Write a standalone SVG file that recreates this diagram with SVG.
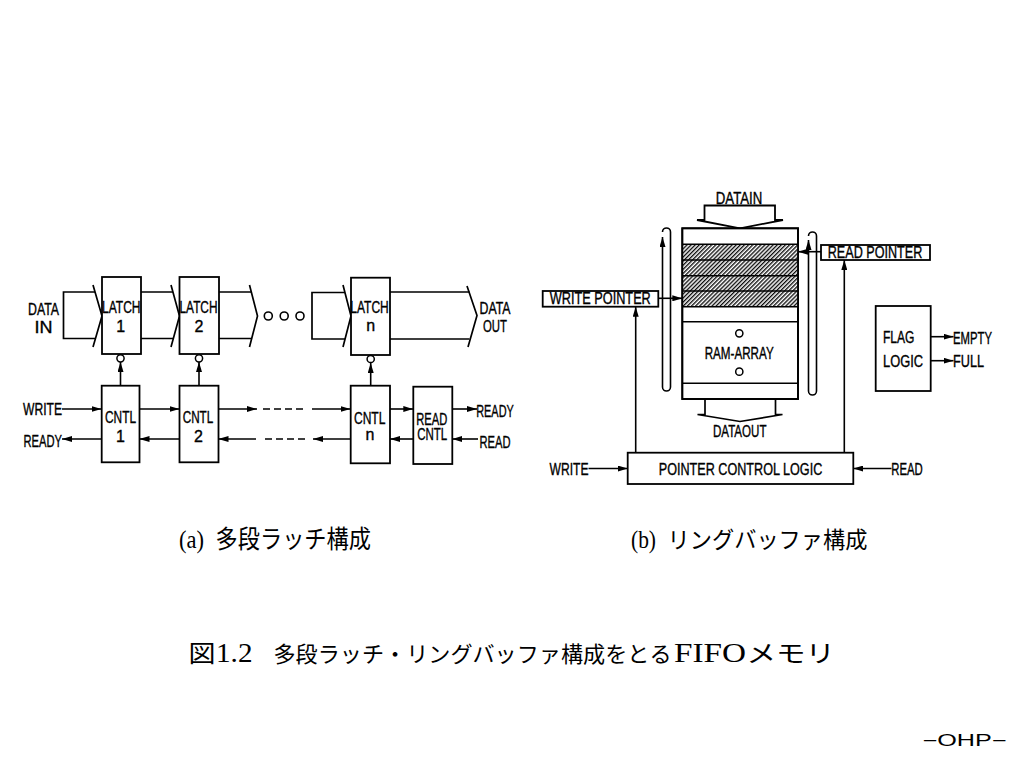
<svg xmlns="http://www.w3.org/2000/svg" width="1024" height="768" viewBox="0 0 1024 768">
<defs>
<style>
.box{fill:#fff;stroke:#000;stroke-width:1.8}
.ln{fill:none;stroke:#000;stroke-width:1.6}
.arr{fill:none;stroke:#000;stroke-width:1.6;marker-end:url(#ah)}
.bus{fill:none;stroke:#000;stroke-width:1.7;stroke-linejoin:miter}
.dash{fill:none;stroke:#000;stroke-width:1.5;stroke-dasharray:7 4}
.lbl{font-family:"Liberation Sans","DejaVu Sans",sans-serif;font-size:16px;fill:#000;stroke:#000;stroke-width:0.35}
.jp{font-family:"Noto Sans CJK JP","Noto Sans CJK SC",sans-serif;fill:#000}
.tm{font-family:"Liberation Serif","Noto Sans CJK JP",serif;fill:#000}
</style>
<marker id="ah" viewBox="0 0 10 6" refX="10" refY="3" markerWidth="10" markerHeight="6" markerUnits="userSpaceOnUse" orient="auto-start-reverse">
<path d="M0,0 L10,3 L0,6 z" fill="#000"/>
</marker>
<pattern id="hatch" width="2.9" height="2.9" patternUnits="userSpaceOnUse" patternTransform="rotate(45)">
<rect width="2.9" height="2.9" fill="#fff"/>
<line x1="0.7" y1="0" x2="0.7" y2="2.9" stroke="#000" stroke-width="1.3"/>
</pattern>
</defs>
<rect width="1024" height="768" fill="#fff"/>

<!-- ===== connectors ===== -->
<g id="connectors">
<!-- left: data buses -->
<path class="bus" d="M95,292 H63.5 V338.5 H95"/>
<path class="bus" d="M93,285 L102,316 L93,347"/>
<path class="bus" d="M141,292 H173 M141,338.5 H173"/>
<path class="bus" d="M171,285 L179.5,316 L171,347"/>
<path class="bus" d="M219,292 H251 M219,338.5 H251"/>
<path class="bus" d="M249.5,285 L257.5,316 L249.5,347"/>
<path class="bus" d="M345,292.5 H312 V339 H345"/>
<path class="bus" d="M343,285 L351,316 L343,347"/>
<path class="bus" d="M390,292 H469.5 M390,339 H469.5"/>
<path class="bus" d="M467,286 L477,315.5 L468,347"/>
<!-- latch enable arrows -->
<path class="arr" d="M120.5,385.7 V362"/>
<path class="arr" d="M199,385.7 V362"/>
<path class="arr" d="M370.7,385.7 V363"/>
<!-- upper control row -->
<path class="arr" d="M62,409 H101.5"/>
<path class="arr" d="M139.5,409 H179.5"/>
<path class="arr" d="M218.5,409 H257"/>
<path class="dash" d="M263,409 H306"/>
<path class="arr" d="M312,409 H350.5"/>
<path class="arr" d="M390,409 H413.3"/>
<path class="arr" d="M452.3,409 H477"/>
<!-- lower control row -->
<path class="arr" d="M478,439 H452.3"/>
<path class="arr" d="M413.3,439 H390"/>
<path class="arr" d="M350.5,439 H313"/>
<path class="dash" d="M305,439 H263"/>
<path class="arr" d="M256,439 H218.5"/>
<path class="arr" d="M179.5,439 H139.5"/>
<path class="arr" d="M101.5,439 H62"/>

<!-- right: data in / out -->
<path class="box" d="M704.5,220 V205.5 H775 V220 H783 L740,228.3 L697,220 Z"/>
<path class="bus" d="M705,399 V414.5 H697.5 L740,421.5 L782.5,414.5 H775.5 V399"/>
<!-- pointer loops -->
<path class="ln" d="M662.5,237 V387 A4,4 0 0 0 670.5,387 V232 A4,4 0 0 0 662.5,232" marker-start="url(#ah)"/>
<path class="ln" d="M808.5,240 V391 A4,4 0 0 0 816.5,391 V236 A4,4 0 0 0 808.5,236" marker-start="url(#ah)"/>
<!-- pointer arrows -->
<path class="arr" d="M658.3,298.3 H682.3"/>
<path class="arr" d="M821,251.7 H798"/>
<path class="arr" d="M635.7,452.7 V306.7"/>
<path class="arr" d="M844.3,452.7 V260"/>
<path class="arr" d="M588.5,468.5 H627.7"/>
<path class="arr" d="M891.5,468.5 H853.3"/>
<path class="arr" d="M930.7,336.7 H953.5"/>
<path class="arr" d="M930.7,360.7 H953.5"/>
</g>

<!-- ===== left diagram nodes ===== -->
<g id="data-in"><text class="lbl" text-anchor="middle"><tspan x="43.5" y="315" textLength="31" lengthAdjust="spacingAndGlyphs">DATA</tspan><tspan x="43.5" y="333.3" textLength="18" lengthAdjust="spacingAndGlyphs">IN</tspan></text></g>

<g id="latch1">
<rect class="box" x="102" y="277" width="39" height="77"/>
<text class="lbl" text-anchor="middle"><tspan x="121.3" y="313.3" textLength="38.5" lengthAdjust="spacingAndGlyphs">LATCH</tspan><tspan x="120.7" y="331.7">1</tspan></text>
<circle class="box" cx="120.5" cy="358.3" r="3.6" style="stroke-width:1.5"/>
</g>
<g id="latch2">
<rect class="box" x="179.5" y="277" width="39.5" height="77"/>
<text class="lbl" text-anchor="middle"><tspan x="198.5" y="313.3" textLength="38" lengthAdjust="spacingAndGlyphs">LATCH</tspan><tspan x="199" y="331.7">2</tspan></text>
<circle class="box" cx="199" cy="358.3" r="3.6" style="stroke-width:1.5"/>
</g>
<g id="dots">
<circle class="box" cx="268.3" cy="316" r="4" style="stroke-width:1.6"/>
<circle class="box" cx="284.2" cy="316" r="4" style="stroke-width:1.6"/>
<circle class="box" cx="300" cy="316" r="4" style="stroke-width:1.6"/>
</g>
<g id="latchn">
<rect class="box" x="351" y="277.7" width="39" height="77.3"/>
<text class="lbl" text-anchor="middle"><tspan x="369.5" y="313.3" textLength="38.5" lengthAdjust="spacingAndGlyphs">LATCH</tspan><tspan x="370.7" y="330.5">n</tspan></text>
<circle class="box" cx="370.7" cy="359" r="3.6" style="stroke-width:1.5"/>
</g>
<g id="data-out"><text class="lbl" text-anchor="middle"><tspan x="495" y="314" textLength="31" lengthAdjust="spacingAndGlyphs">DATA</tspan><tspan x="495" y="331.5" textLength="24" lengthAdjust="spacingAndGlyphs">OUT</tspan></text></g>

<g id="cntl1">
<rect class="box" x="101.7" y="385.7" width="37.8" height="76.6"/>
<text class="lbl" text-anchor="middle"><tspan x="120.5" y="423.3" textLength="31" lengthAdjust="spacingAndGlyphs">CNTL</tspan><tspan x="120.5" y="441.7">1</tspan></text>
</g>
<g id="cntl2">
<rect class="box" x="179.5" y="385.7" width="39" height="76.6"/>
<text class="lbl" text-anchor="middle"><tspan x="198" y="423.3" textLength="30.5" lengthAdjust="spacingAndGlyphs">CNTL</tspan><tspan x="198.5" y="441.7">2</tspan></text>
</g>
<g id="cntln">
<rect class="box" x="350.7" y="385.7" width="39.3" height="77.6"/>
<text class="lbl" text-anchor="middle"><tspan x="369.7" y="424.3" textLength="31.5" lengthAdjust="spacingAndGlyphs">CNTL</tspan><tspan x="370" y="440">n</tspan></text>
</g>
<g id="read-cntl">
<rect class="box" x="413.3" y="386.7" width="39" height="77.3"/>
<text class="lbl" text-anchor="middle" font-size="15"><tspan x="431.7" y="424.5" textLength="31" lengthAdjust="spacingAndGlyphs">READ</tspan><tspan x="432.2" y="440" textLength="30" lengthAdjust="spacingAndGlyphs">CNTL</tspan></text>
</g>
<g id="write-l"><text class="lbl" x="42.5" y="415" text-anchor="middle" textLength="39" lengthAdjust="spacingAndGlyphs">WRITE</text></g>
<g id="ready-l"><text class="lbl" x="42.8" y="446.5" text-anchor="middle" textLength="38.5" lengthAdjust="spacingAndGlyphs">READY</text></g>
<g id="ready-r"><text class="lbl" x="495" y="416.7" text-anchor="middle" textLength="37.5" lengthAdjust="spacingAndGlyphs">READY</text></g>
<g id="read-l"><text class="lbl" x="495" y="448" text-anchor="middle" textLength="31" lengthAdjust="spacingAndGlyphs">READ</text></g>

<!-- ===== right diagram nodes ===== -->
<g id="datain"><text class="lbl" x="739" y="203.5" text-anchor="middle" textLength="46.5" lengthAdjust="spacingAndGlyphs">DATAIN</text></g>
<g id="ram-array">
<rect class="box" x="682.3" y="228.3" width="115.7" height="170.7"/>
<rect x="682.3" y="244.3" width="115.7" height="62.4" fill="url(#hatch)"/>
<path class="ln" d="M682.3,244.3 H798 M682.3,260 H798 M682.3,275.7 H798 M682.3,291 H798 M682.3,306.7 H798 M682.3,321.7 H798 M682.3,383.3 H798"/>
<rect class="box" x="682.3" y="228.3" width="115.7" height="170.7" style="fill:none"/>
<circle class="box" cx="739.3" cy="333.3" r="3.6" style="stroke-width:1.5"/>
<circle class="box" cx="739.3" cy="371.7" r="3.6" style="stroke-width:1.5"/>
<text class="lbl" x="739.2" y="359.3" text-anchor="middle" font-size="17" textLength="69" lengthAdjust="spacingAndGlyphs">RAM-ARRAY</text>
</g>
<g id="dataout"><text class="lbl" x="739.7" y="436.7" text-anchor="middle" textLength="53.5" lengthAdjust="spacingAndGlyphs">DATAOUT</text></g>
<g id="write-pointer">
<rect class="box" x="542.7" y="291" width="115.6" height="15.7"/>
<text class="lbl" x="600.3" y="304" text-anchor="middle" font-size="15" textLength="101" lengthAdjust="spacingAndGlyphs">WRITE POINTER</text>
</g>
<g id="read-pointer">
<rect class="box" x="821" y="245" width="109" height="15"/>
<text class="lbl" x="875" y="258.3" text-anchor="middle" font-size="16" textLength="94.5" lengthAdjust="spacingAndGlyphs">READ POINTER</text>
</g>
<g id="pointer-control-logic">
<rect class="box" x="627.7" y="452.7" width="225.6" height="31.3"/>
<text class="lbl" x="740.5" y="475" text-anchor="middle" font-size="18" textLength="163.5" lengthAdjust="spacingAndGlyphs">POINTER CONTROL LOGIC</text>
</g>
<g id="write-r"><text class="lbl" x="569" y="475" text-anchor="middle" font-size="18" textLength="39" lengthAdjust="spacingAndGlyphs">WRITE</text></g>
<g id="read-r"><text class="lbl" x="907" y="475" text-anchor="middle" font-size="18" textLength="31.5" lengthAdjust="spacingAndGlyphs">READ</text></g>
<g id="flag-logic">
<rect class="box" x="875.7" y="306" width="55" height="85"/>
<text class="lbl" font-size="17"><tspan x="883" y="343.3" textLength="31.5" lengthAdjust="spacingAndGlyphs">FLAG</tspan><tspan x="883" y="366.7" textLength="40" lengthAdjust="spacingAndGlyphs">LOGIC</tspan></text>
</g>
<g id="empty"><text class="lbl" x="953" y="344" font-size="17" textLength="39" lengthAdjust="spacingAndGlyphs">EMPTY</text></g>
<g id="full"><text class="lbl" x="953" y="367" font-size="17" textLength="31" lengthAdjust="spacingAndGlyphs">FULL</text></g>

<!-- ===== captions ===== -->
<g id="caption-a"><text y="548" font-size="25"><tspan class="tm" x="179" font-size="25" textLength="25" lengthAdjust="spacingAndGlyphs">(a)</tspan> <tspan class="jp" x="215.5" textLength="155.5" lengthAdjust="spacingAndGlyphs">多段ラッチ構成</tspan></text></g>
<g id="caption-b"><text y="548" font-size="23"><tspan class="tm" x="631" font-size="25" textLength="25" lengthAdjust="spacingAndGlyphs">(b)</tspan> <tspan class="jp" x="667.5" textLength="200" lengthAdjust="spacingAndGlyphs">リングバッファ構成</tspan></text></g>
<g id="title"><text y="662" font-size="22"><tspan class="jp" x="188.5" font-size="24" textLength="27" lengthAdjust="spacingAndGlyphs">図</tspan><tspan class="tm" x="216" font-size="27" textLength="36.5" lengthAdjust="spacingAndGlyphs">1.2</tspan> <tspan class="jp" x="273.5" textLength="398" lengthAdjust="spacingAndGlyphs">多段ラッチ・リングバッファ構成をとる</tspan><tspan class="tm" x="674" font-size="28" textLength="72" lengthAdjust="spacingAndGlyphs">FIFO</tspan><tspan class="jp" x="746.5" font-size="24" textLength="88.5" lengthAdjust="spacingAndGlyphs">メモリ</tspan></text></g>
<g id="ohp"><text class="lbl" x="922.5" y="746" font-size="22" textLength="84" lengthAdjust="spacingAndGlyphs" style="stroke-width:0">−OHP−</text></g>
</svg>
